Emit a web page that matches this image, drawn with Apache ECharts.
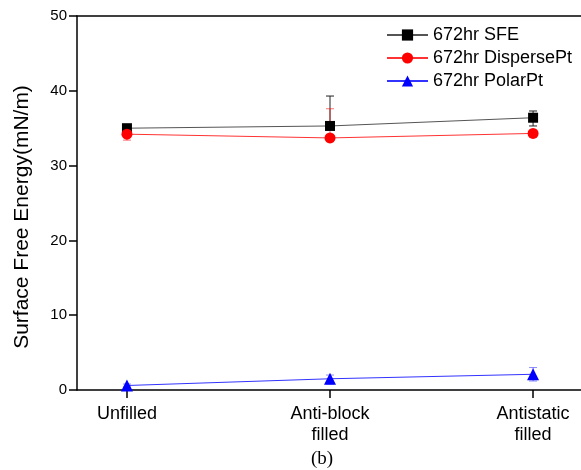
<!DOCTYPE html>
<html>
<head>
<meta charset="utf-8">
<script src="https://cdn.jsdelivr.net/npm/echarts@6/dist/echarts.min.js"></script>
<style>
  html, body { margin: 0; padding: 0; background: #fff; }
  #chart { width: 581px; height: 470px; }
</style>
</head>
<body>
<div id="chart"></div>
<script>
// categories on the x axis
const categories = ['Unfilled', 'Anti-block\nfilled', 'Antistatic\nfilled'];
const xPos = [0, 1, 2];

// 672hr values (error bars: up / down)
const sfe = [35.0, 35.3, 36.4];
const sfeErrUp = [0.3, 4.0, 0.9];
const sfeErrDown = [0.3, 0.3, 1.1];
const disperse = [34.2, 33.7, 34.3];
const disperseErrUp = [0.5, 3.9, 0.4];
const disperseErrDown = [0.8, 0.5, 0.5];
const polar = [0.6, 1.5, 2.1];
const polarErrUp = [0.2, 0.5, 0.9];
const polarErrDown = [0.2, 0.7, 0.9];

const yTicks = [0, 10, 20, 30, 40, 50];

const font = 'Liberation Sans, Arial, sans-serif';

function pts(vals) {
    return vals.map((v, i) => [xPos[i], v]);
}
function errPts(vals, up, down) {
    return vals.map((v, i) => [xPos[i], v, up[i], down[i]]);
}

function errorBar(color) {
    return function (params, api) {
        const x = api.value(0);
        const y = api.value(1);
        const hi = api.coord([x, y + api.value(2)]);
        const lo = api.coord([x, y - api.value(3)]);
        const w = 4;
        const style = { stroke: color, lineWidth: 1 };
        return {
            type: 'group',
            children: [
                { type: 'line', shape: { x1: hi[0], y1: hi[1], x2: lo[0], y2: lo[1] }, style: style },
                { type: 'line', shape: { x1: hi[0] - w, y1: hi[1], x2: hi[0] + w, y2: hi[1] }, style: style },
                { type: 'line', shape: { x1: lo[0] - w, y1: lo[1], x2: lo[0] + w, y2: lo[1] }, style: style },
            ],
        };
    };
}

const chart = echarts.init(document.getElementById('chart'));

chart.setOption({
    animation: false,
    backgroundColor: '#fff',
    grid: {
        left: 77,
        right: 0,
        top: 16,
        bottom: 80,
    },
    legend: {
        orient: 'vertical',
        left: 381,
        top: 21,
        itemWidth: 41,
        itemHeight: 14,
        itemGap: 5,
        textStyle: {
            fontFamily: font,
            fontSize: 18,
            color: '#000',
        },
        data: ['672hr SFE', '672hr DispersePt', '672hr PolarPt'],
    },
    xAxis: [
        {
            type: 'value',
            min: -0.246,
            max: 2.236,
            position: 'bottom',
            splitLine: { show: false },
            axisLine: { onZero: false, lineStyle: { color: '#000', width: 1.5 } },
            axisTick: {
                customValues: xPos,
                length: 8,
                lineStyle: { color: '#000', width: 1.5 },
            },
            axisLabel: {
                customValues: xPos,
                formatter: v => categories[Math.round(v)],
                fontFamily: font,
                fontSize: 18,
                lineHeight: 21,
                color: '#000',
                margin: 14,
            },
        },
        {
            type: 'value',
            min: -0.246,
            max: 2.236,
            position: 'top',
            splitLine: { show: false },
            axisLine: { onZero: false, lineStyle: { color: '#000', width: 1.5 } },
            axisTick: { show: false },
            axisLabel: { show: false },
        },
    ],
    yAxis: {
        type: 'value',
        min: 0,
        max: 50,
        interval: 10,
        name: 'Surface Free Energy(mN/m)',
        nameLocation: 'middle',
        nameGap: 44,
        nameTextStyle: {
            fontFamily: font,
            fontSize: 21,
            color: '#000',
            padding: [0, 28, 0, 0],
        },
        splitLine: { show: false },
        axisLine: { show: true, onZero: false, lineStyle: { color: '#000', width: 1.5 } },
        axisTick: { length: 8, lineStyle: { color: '#000', width: 1.5 } },
        axisLabel: {
            fontFamily: font,
            fontSize: 15,
            color: '#000',
            margin: 10,
            formatter: v => (yTicks.includes(v) ? String(v) : ''),
        },
    },
    series: [
        {
            type: 'custom',
            renderItem: errorBar('#222'),
            data: errPts(sfe, sfeErrUp, sfeErrDown),
            z: 1,
        },
        {
            type: 'custom',
            renderItem: errorBar('rgba(255,0,0,0.55)'),
            data: errPts(disperse, disperseErrUp, disperseErrDown),
            z: 1,
        },
        {
            type: 'custom',
            renderItem: errorBar('rgba(0,0,255,0.45)'),
            data: errPts(polar, polarErrUp, polarErrDown),
            z: 1,
        },
        {
            name: '672hr SFE',
            type: 'line',
            data: pts(sfe),
            symbol: 'rect',
            symbolSize: 10,
            color: '#000',
            lineStyle: { color: '#555', width: 1 },
            z: 2,
        },
        {
            name: '672hr DispersePt',
            type: 'line',
            data: pts(disperse),
            symbol: 'circle',
            symbolSize: 11,
            color: '#f00',
            lineStyle: { color: '#f33', width: 1 },
            z: 3,
        },
        {
            name: '672hr PolarPt',
            type: 'line',
            data: pts(polar),
            symbol: 'triangle',
            symbolSize: 12,
            color: '#00f',
            lineStyle: { color: '#33f', width: 1 },
            z: 4,
        },
    ],
    graphic: [
        {
            type: 'text',
            left: 311,
            top: 450,
            style: {
                text: '(b)',
                font: '19px "Liberation Serif", "Times New Roman", serif',
                fill: '#000',
            },
        },
    ],
});
</script>
</body>
</html>
